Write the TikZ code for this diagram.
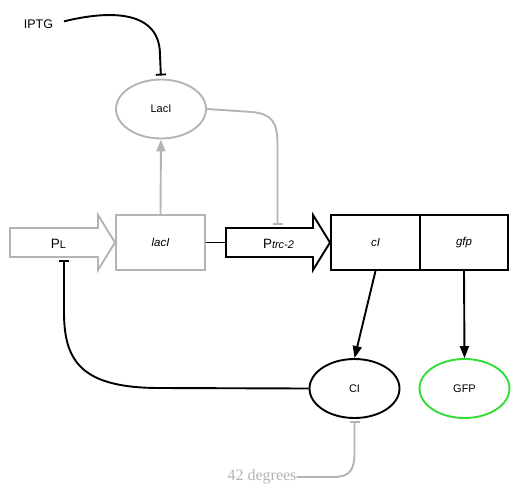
\documentclass[tikz,border=0pt]{standalone}
\usepackage{fontspec}
\setmainfont{Liberation Sans}
\newfontfamily\serifnum{Liberation Serif}
\usetikzlibrary{shapes.geometric,arrows.meta}
\definecolor{lgray}{HTML}{B4B4B4}
\definecolor{lgreen}{HTML}{33DD33}
\tikzset{
  lw/.style={line width=1.9pt},
  protein/.style={ellipse,draw,lw,minimum width=90pt,minimum height=59pt,inner sep=0pt,font=\fontsize{11}{13}\selectfont},
  genebox/.style={rectangle,draw,lw,inner sep=0pt,minimum height=55pt,font=\fontsize{11.5}{13}\selectfont\itshape},
  act/.style={lw,-{Triangle[length=12pt,width=9pt]}},
  rep/.style={lw,-{Bar[width=10pt,line width=1.9pt]},shorten >=3pt},
  lbl/.style={inner sep=0pt}
}
\begin{document}
\begin{tikzpicture}[x=1pt,y=-1pt]
\useasboundingbox (0,0) rectangle (521,496);

% text nodes
\node[lbl,font=\fontsize{12.5}{14}\selectfont] (iptg) at (38.5,24) {IPTG};
\node[lbl,font=\fontsize{16}{18}\selectfont\serifnum,text=lgray] (deg) at (262,477) {42 degrees};

% proteins
\node[protein,draw=lgray] (laci) at (161,109) {LacI};
\node[protein,draw=black] (ci) at (354.5,388.5) {CI};
\node[protein,draw=lgreen] (gfp) at (464.5,388.5) {GFP};

% PL promoter
\draw[lw,draw=lgray] (10,228) -- (98,228) -- (98,215) -- (115,242.5) -- (98,270) -- (98,257) -- (10,257) -- cycle;
\node[lbl] (pl) at (58.5,244) {\fontsize{13.5}{15}\selectfont P\fontsize{11}{13}\selectfont L};
\coordinate (plbot) at (64,257);

% lacI gene
\node[genebox,draw=lgray,minimum width=89pt] (lacibox) at (160.5,242.5) {lacI};

% Ptrc-2 promoter
\draw[lw] (226,228) -- (313,228) -- (313,215) -- (330,242.5) -- (313,270) -- (313,257) -- (226,257) -- cycle;
\node[lbl] (ptrc) at (278.5,244) {\fontsize{13.5}{15}\selectfont P\fontsize{11}{13}\selectfont\itshape trc-2};
\coordinate (ptrcin) at (226,242.5);
\coordinate (ptrctop) at (277.5,228);

% cI and gfp genes
\node[genebox,minimum width=89pt] (cibox) at (375.5,242.5) {cI};
\node[genebox,minimum width=88pt] (gfpbox) at (464,242.5) {gfp};

% connectors
\draw[rep,shorten <=11pt] (iptg.east) .. controls (110,10) and (160,10) .. (160,55) -- (laci.north);
\draw[act,draw=lgray,color=lgray] (lacibox.north) -- (laci.south);
\draw[rep,draw=lgray] (laci.east) -- (252,112) .. controls (272,114) and (277.5,122) .. (277.5,145) -- (ptrctop);
\draw[lw] (lacibox.east) -- (ptrcin);
\draw[act] (cibox.south) -- (ci.north);
\draw[act] (gfpbox.south) -- (gfp.north);
\draw[rep] (ci.west) -- (160,388) .. controls (82,388) and (64,362) .. (64,312) -- (plbot);
\draw[rep,draw=lgray,shorten >=2pt] (deg.east) -- (333,477) .. controls (350,477) and (354.5,470) .. (354.5,452) -- (ci.south);
\end{tikzpicture}
\end{document}
